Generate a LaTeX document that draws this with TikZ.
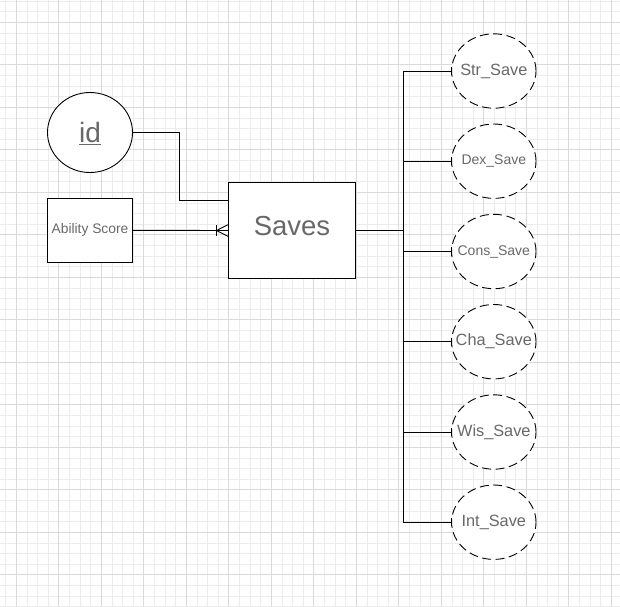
\documentclass[tikz,border=0pt]{standalone}
\usepackage{fontspec}
\setmainfont{Liberation Sans}
\usetikzlibrary{shapes.geometric,calc}
\definecolor{txtgray}{RGB}{104,104,104}
\definecolor{gridminor}{RGB}{236,236,236}
\definecolor{gridmajor}{RGB}{218,218,218}
\tikzset{
  entbox/.style={draw=black,line width=0.9pt,fill=white,inner sep=0pt,text=txtgray},
  keyell/.style={ellipse,draw=black,line width=0.9pt,fill=white,inner sep=0pt,text=txtgray},
  attrell/.style={ellipse,draw=black,line width=0.9pt,fill=white,inner sep=0pt,
    dash pattern=on 9pt off 4.5pt,minimum width=84.4pt,minimum height=74.4pt},
  attrtxt/.style={text=txtgray,inner sep=0pt},
  conn/.style={draw=black,line width=0.9pt},
}
\begin{document}
\begin{tikzpicture}[x=1pt,y=-1pt]
\useasboundingbox (0,0) rectangle (620,606);
% grid
\foreach \k in {0,...,58} {
  \draw[gridminor,line width=0.8pt] ({5.675+10.625*\k},0) -- ({5.675+10.625*\k},606);
}
\foreach \k in {0,...,57} {
  \draw[gridminor,line width=0.8pt] (0,{1.05+10.625*\k}) -- (620,{1.05+10.625*\k});
}
\foreach \k in {0,...,14} {
  \draw[gridmajor,line width=0.8pt] ({16.3+42.5*\k},0) -- ({16.3+42.5*\k},606);
  \draw[gridmajor,line width=0.8pt] (0,{22.3+42.5*\k}) -- (620,{22.3+42.5*\k});
}
% entities
\node[keyell,minimum width=85pt,minimum height=80pt,text height=20pt,text depth=0pt,
  font=\fontsize{28}{32}\selectfont] (id) at (90,132.5) {\underline{id}};
\node[entbox,minimum width=85.4pt,minimum height=64pt,font=\fontsize{13.8}{16}\selectfont]
  (ab) at (90,230.3) {Ability Score};
\node[entbox,minimum width=127.4pt,minimum height=95.6pt,text height=15pt,text depth=4.6pt,
  font=\fontsize{27.5}{32}\selectfont] (sv) at (292,230.5) {Saves};
% attributes
\node[attrell,label={[attrtxt,font=\fontsize{16.3}{19}\selectfont]center:Str\_Save}] (s1) at (493.8,71) {};
\node[attrell,label={[attrtxt,font=\fontsize{14}{17}\selectfont]center:Dex\_Save}] (s2) at (493.8,161.2) {};
\node[attrell,label={[attrtxt,font=\fontsize{14}{17}\selectfont]center:Cons\_Save}] (s3) at (493.8,251.5) {};
\node[attrell,label={[attrtxt,font=\fontsize{16.3}{19}\selectfont]center:Cha\_Save}] (s4) at (493.8,341.7) {};
\node[attrell,label={[attrtxt,font=\fontsize{16.3}{19}\selectfont]center:Wis\_Save}] (s5) at (493.8,432) {};
\node[attrell,label={[attrtxt,font=\fontsize{16.3}{19}\selectfont]center:Int\_Save}] (s6) at (493.8,522.2) {};
% connectors
\draw[conn] (id.east) -| ($(sv.west)+(-48,-30.2)$) coordinate (idc) -- (idc -| sv.west);
\draw[conn] (ab.east) -- (sv.west);
\draw[conn] ($(sv.west)+(-11.3,0)$) -- ($(sv.west)+(0,-5.8)$);
\draw[conn] ($(sv.west)+(-11.3,0)$) -- ($(sv.west)+(0,5.8)$);
\draw[conn] ($(sv.west)+(-11.3,-5.2)$) -- ($(sv.west)+(-11.3,5.2)$);
\coordinate (tr) at (403.3,230.3);
\draw[conn] (sv.east) -- (sv.east -| tr);
\draw[conn] (s1.west -| tr) -- (s6.west -| tr);
\foreach \s in {s1,s2,s3,s4,s5,s6} {
  \draw[conn] (\s.west -| tr) -- (\s.west);
  \draw[conn] ($(\s.west)+(0,-4.2)$) -- ($(\s.west)+(0,4.2)$);
}
\end{tikzpicture}
\end{document}
